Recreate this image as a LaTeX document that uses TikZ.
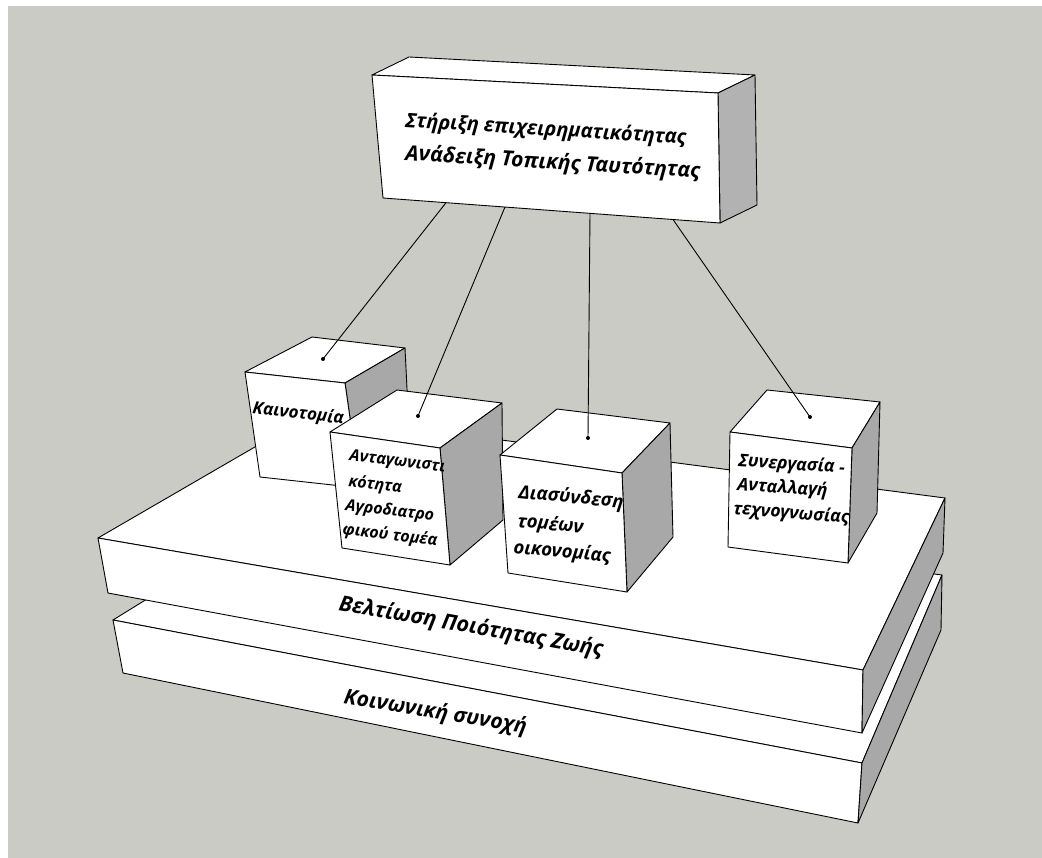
\documentclass[tikz,border=0pt]{standalone}
\usepackage{fontspec}
\setmainfont{Open Sans}
\definecolor{bg}{RGB}{203,203,197}
\definecolor{sidegray}{RGB}{168,168,168}
\definecolor{boxgray}{RGB}{178,178,178}
\begin{document}
\begin{tikzpicture}[x=1pt,y=-1pt,
  edge/.style={draw=black,line width=0.9pt,line join=round},
  lit/.style={edge,fill=white},
  dark/.style={edge,fill=sidegray},
  lbl/.style={font=\bfseries\itshape\fontsize{#1}{#1}\selectfont,inner sep=0pt,anchor=base west},
  tip/.style={circle,fill=black,inner sep=0pt,minimum size=4pt},
  link/.style={draw=black,line width=0.9pt}]
\useasboundingbox (0,0) rectangle (1042,858);
\fill[white] (0,0) rectangle (1042,858);
\fill[bg] (8,6) rectangle (1042,858);

% lower slab
\path[lit] (113,620) -- (317,494) -- (942,575) -- (862,763) -- cycle;
\path[lit] (113,620) -- (862,763) -- (858,823) -- (123,673) -- cycle;
\path[dark] (862,763) -- (942,575) -- (941,630) -- (858,823) -- cycle;
% upper slab
\path[lit] (98,538) -- (310,415) -- (945,498) -- (863,670) -- cycle;
\path[lit] (98,538) -- (863,670) -- (862,733) -- (108,593) -- cycle;
\path[dark] (863,670) -- (945,498) -- (943,553) -- (862,733) -- cycle;
\node[lbl=21.5,rotate=-10] (q1) at (338,610) {Βελτίωση Ποιότητας Ζωής};
\node[lbl=21,rotate=-9.5] (q2) at (343,703) {Κοινωνική συνοχή};

% cube 1
\path[lit] (245,372) -- (312,337) -- (405,348) -- (345,383) -- cycle;
\path[dark] (345,383) -- (405,348) -- (410,450) -- (360,488) -- cycle;
\path[lit] (245,372) -- (345,383) -- (360,488) -- (260,477) -- cycle;
\node[lbl=17,rotate=-7] (k1) at (252,413) {Καινοτομία};
% cube 4
\path[lit] (730,432) -- (767,390) -- (880,402) -- (852,448) -- cycle;
\path[dark] (852,448) -- (880,402) -- (877,513) -- (848,563) -- cycle;
\path[lit] (730,432) -- (852,448) -- (848,563) -- (728,547) -- cycle;
\node[lbl=17.5,rotate=-4] (k4a) at (738,466) {Συνεργασία -};
\node[lbl=17.5,rotate=-4] (k4b) at (737,490) {Ανταλλαγή};
\node[lbl=17.5,rotate=-4.5] (k4c) at (733,514) {τεχνογνωσίας};
% cube 2
\path[lit] (330,432) -- (397,390) -- (502,403) -- (440,448) -- cycle;
\path[dark] (440,448) -- (502,403) -- (503,520) -- (450,565) -- cycle;
\path[lit] (330,432) -- (440,448) -- (450,565) -- (342,548) -- cycle;
\node[lbl=16,rotate=-7] (k2a) at (349,460) {Ανταγωνιστι};
\node[lbl=16,rotate=-7] (k2b) at (348,486) {κότητα};
\node[lbl=16,rotate=-7] (k2c) at (345,510) {Αγροδιατρο};
\node[lbl=16,rotate=-7] (k2d) at (342,534) {φικού τομέα};
% cube 3
\path[lit] (500,455) -- (557,409) -- (670,423) -- (622,473) -- cycle;
\path[dark] (622,473) -- (670,423) -- (673,537) -- (627,592) -- cycle;
\path[lit] (500,455) -- (622,473) -- (627,592) -- (508,573) -- cycle;
\node[lbl=18.5,rotate=-5.5] (k3a) at (518,498) {Διασύνδεση};
\node[lbl=18.5,rotate=-5.5] (k3b) at (517,527) {τομέων};
\node[lbl=18.5,rotate=-5.5] (k3c) at (513,553) {οικονομίας};

% top box
\path[lit] (372,75) -- (409,57) -- (755,75) -- (718,93) -- cycle;
\path[edge,fill=boxgray] (718,93) -- (755,75) -- (757,205) -- (720,223) -- cycle;
\path[lit] (372,75) -- (718,93) -- (720,223) -- (383,198) -- cycle;
\node[lbl=20,rotate=-3.5] (t1) at (405,127) {Στήριξη επιχειρηματικότητας};
\node[lbl=21,rotate=-3.5] (t2) at (405,160) {Ανάδειξη Τοπικής Ταυτότητας};

% connectors
\coordinate (s1) at (446,202.7);
\coordinate (s2) at (505,207);
\coordinate (s3) at (590,213);
\coordinate (s4) at (673,219.5);
\node[tip] (e1) at (323,359) {};
\node[tip] (e2) at (418,416) {};
\node[tip] (e3) at (588,438) {};
\node[tip] (e4) at (810,417) {};
\draw[link] (s1) -- (e1.center);
\draw[link] (s2) -- (e2.center);
\draw[link] (s3) -- (e3.center);
\draw[link] (s4) -- (e4.center);
\end{tikzpicture}
\end{document}
